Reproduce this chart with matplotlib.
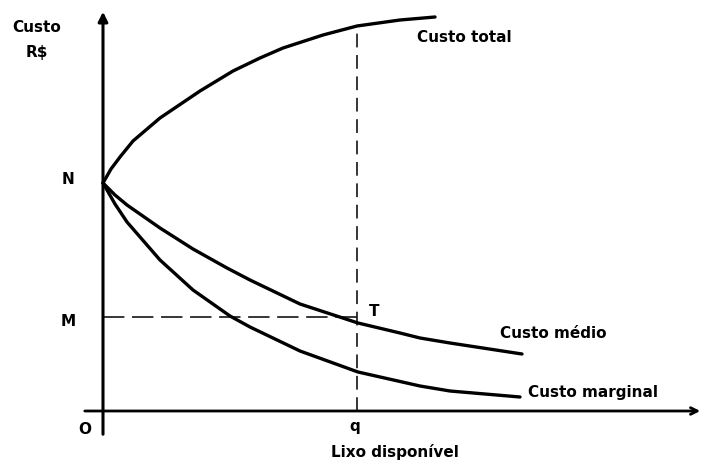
import matplotlib
matplotlib.use("Agg")
import matplotlib.pyplot as plt

# Data (x: quantity of waste, y: cost), origin at O
total_x = [0, 8, 17, 30, 57, 97, 130, 157, 180, 220, 254, 297, 332]
total_y = [228, 242, 254, 270, 293, 320, 340, 353, 363, 376, 385, 391, 394]

medio_x = [0, 12, 24, 57, 90, 124, 147, 197, 255, 297, 317, 347, 419]
medio_y = [228, 216, 206, 183, 162, 143, 131, 107, 88, 78, 73, 68, 57]

marg_x = [0, 12, 24, 57, 90, 127, 147, 197, 255, 317, 347, 417]
marg_y = [228, 207, 189, 151, 121, 95, 84, 60, 39, 25, 20, 14]

q_val = 254
N_val = 228
M_val = 94
total_at_q = 385

fig = plt.figure(figsize=(7.06, 4.66), dpi=100)
ax = fig.add_axes([0, 0, 1, 1])
ax.set_xlim(-103, 603)
ax.set_ylim(-55, 411)
ax.axis("off")

lw = 2.4
for xs, ys in [(total_x, total_y), (medio_x, medio_y), (marg_x, marg_y)]:
    ax.plot(xs, ys, color="black", lw=lw, solid_capstyle="round",
            solid_joinstyle="round")

# axes with arrows
ax.annotate("", xy=(0, 402), xytext=(0, -26),
            arrowprops=dict(arrowstyle="-|>", lw=2.2, color="black", mutation_scale=14))
ax.annotate("", xy=(600, 0), xytext=(-21, 0),
            arrowprops=dict(arrowstyle="->", lw=2.0, color="black", mutation_scale=12))

# dashed guides
ax.plot([q_val, q_val], [0, total_at_q], color="black", lw=1.1, linestyle=(0, (9, 5)))
ax.plot([0, q_val], [M_val, M_val], color="black", lw=1.1, linestyle=(0, (14, 5)))

fkw = dict(fontsize=11, fontweight="bold", color="black", family="DejaVu Sans")
ax.text(-66, 383, "Custo", ha="center", va="center", **fkw)
ax.text(-66, 359, "R$", ha="center", va="center", **fkw)
ax.text(-35, 231, "N", ha="center", va="center", **fkw)
ax.text(-35, 90, "M", ha="center", va="center", **fkw)
ax.text(-18, -19, "O", ha="center", va="center", **fkw)
ax.text(252, -16, "q", ha="center", va="center", **fkw)
ax.text(266, 99, "T", ha="left", va="center", **fkw)
ax.text(314, 373, "Custo total", ha="left", va="center", **fkw)
ax.text(397, 78, "Custo médio", ha="left", va="center", **fkw)
ax.text(425, 18, "Custo marginal", ha="left", va="center", **fkw)
ax.text(292, -41, "Lixo disponível", ha="center", va="center", **fkw)

fig.savefig("out.png", dpi=100)
